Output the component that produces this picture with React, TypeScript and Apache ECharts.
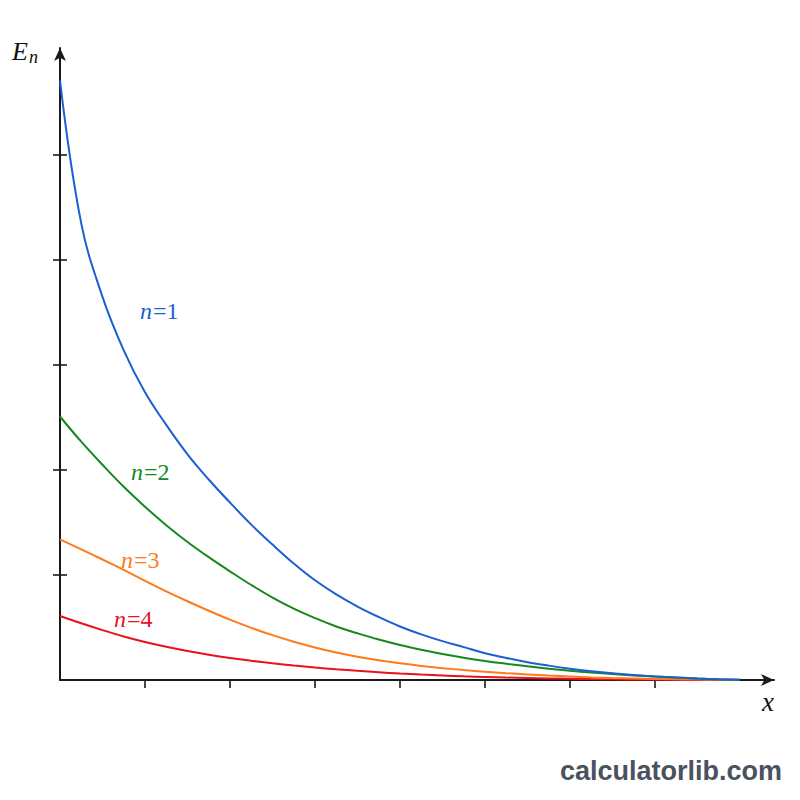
import React, { useEffect, useRef } from "react";
import * as echarts from "echarts";

const xs = [0, 0.25, 0.5, 0.75, 1, 1.25, 1.5, 1.75, 2, 2.25, 2.5, 2.75, 3, 3.25, 3.5, 3.75, 4, 4.25, 4.5, 4.75, 5, 5.25, 5.5, 5.75, 6, 6.25, 6.5, 6.75, 7, 7.25, 7.5, 7.75, 8];
const e1 = [5.71, 4.35, 3.65, 3.14, 2.74, 2.43, 2.15, 1.91, 1.69, 1.48, 1.29, 1.11, 0.95, 0.815, 0.7, 0.6, 0.51, 0.435, 0.37, 0.313, 0.255, 0.21, 0.17, 0.137, 0.108, 0.084, 0.064, 0.048, 0.034, 0.023, 0.014, 0.007, 0.002];
const e2 = [2.51, 2.27, 2.05, 1.84, 1.65, 1.475, 1.315, 1.17, 1.035, 0.905, 0.785, 0.68, 0.59, 0.51, 0.445, 0.385, 0.333, 0.288, 0.248, 0.213, 0.182, 0.155, 0.13, 0.108, 0.088, 0.071, 0.057, 0.044, 0.033, 0.023, 0.014, 0.007, 0.002];
const e3 = [1.34, 1.245, 1.148, 1.048, 0.945, 0.845, 0.75, 0.66, 0.575, 0.497, 0.427, 0.365, 0.31, 0.262, 0.222, 0.188, 0.159, 0.134, 0.113, 0.095, 0.079, 0.065, 0.053, 0.042, 0.033, 0.025, 0.019, 0.014, 0.01, 0.007, 0.004, 0.002, 0.001];
const e4 = [0.61, 0.54, 0.475, 0.415, 0.362, 0.316, 0.276, 0.241, 0.21, 0.183, 0.159, 0.138, 0.119, 0.102, 0.087, 0.074, 0.062, 0.052, 0.043, 0.035, 0.029, 0.023, 0.019, 0.015, 0.012, 0.009, 0.007, 0.005, 0.004, 0.003, 0.002, 0.001, 0];
const xTicks = [1, 2, 3, 4, 5, 6, 7];
const yTicks = [1, 2, 3, 4, 5];
const seriesNames = ["n=1", "n=2", "n=3", "n=4"];
const colors = ["#1b5fd3", "#16891c", "#ff7a1a", "#e8121c"];

const SERIF = "'Liberation Serif', 'DejaVu Serif', serif";

export default function App() {
  const ref = useRef<HTMLDivElement>(null);
  useEffect(() => {
    if (!ref.current) return;
    const chart = echarts.init(ref.current, undefined, { renderer: "svg" });
    const all = [e1, e2, e3, e4];
    const axisColor = "#1a1a1a";
    const labelPos = [
      [140, 311],
      [131, 472],
      [121, 560],
      [114, 619],
    ];
    chart.setOption({
      animation: false,
      backgroundColor: "#ffffff",
      grid: { left: 60, right: 26, top: 48, bottom: 120 },
      xAxis: {
        type: "value",
        min: 0,
        max: 8.4,
        axisLine: {
          show: true,
          lineStyle: { color: axisColor, width: 2 },
          symbol: ["none", "arrow"],
          symbolSize: [9, 13],
        },
        axisTick: {
          show: true,
          customValues: xTicks,
          length: 8,
          lineStyle: { color: axisColor, width: 1.6 },
        },
        axisLabel: { show: false },
        splitLine: { show: false },
      },
      yAxis: [
        {
          type: "value",
          min: 0,
          max: 6.02,
          axisLine: {
            show: true,
            lineStyle: { color: axisColor, width: 2 },
            symbol: ["none", "arrow"],
            symbolSize: [9, 13],
          },
          axisTick: {
            show: true,
            customValues: yTicks,
            length: 7,
            lineStyle: { color: axisColor, width: 1.6 },
          },
          axisLabel: { show: false },
          splitLine: { show: false },
        },
        {
          type: "value",
          position: "left",
          min: 0,
          max: 6.02,
          axisLine: { show: false },
          axisTick: {
            show: true,
            inside: true,
            customValues: yTicks,
            length: 7,
            lineStyle: { color: axisColor, width: 1.6 },
          },
          axisLabel: { show: false },
          splitLine: { show: false },
        },
      ],
      series: all.map((arr, i) => ({
        name: seriesNames[i],
        type: "line",
        smooth: 0.4,
        showSymbol: false,
        yAxisIndex: 0,
        z: 3 + (3 - i),
        lineStyle: { color: colors[i], width: 2 },
        data: xs.map((x, j) => [x, arr[j]]),
      })),
      graphic: [
        {
          type: "text",
          left: 12,
          top: 38,
          style: {
            text: "{e|E}{n|n}",
            rich: {
              e: { fontFamily: SERIF, fontStyle: "italic", fontSize: 26, fill: "#111" },
              n: { fontFamily: SERIF, fontStyle: "italic", fontSize: 18, fill: "#111", padding: [11, 0, 0, 1] },
            },
          },
        },
        {
          type: "text",
          left: 762,
          top: 688,
          style: {
            text: "x",
            fontFamily: SERIF,
            fontStyle: "italic",
            fontSize: 27,
            fill: "#111",
          },
        },
        ...seriesNames.map((name, i) => ({
          type: "text",
          x: labelPos[i][0],
          y: labelPos[i][1],
          style: {
            text: "{i|n}{r|" + name.slice(1) + "}",
            verticalAlign: "middle",
            rich: {
              i: { fontFamily: SERIF, fontStyle: "italic", fontSize: 24, fill: colors[i] },
              r: { fontFamily: SERIF, fontSize: 24, fill: colors[i], padding: [0, 0, 0, 1] },
            },
          },
        })),
        {
          type: "text",
          right: 18,
          top: 757,
          style: {
            text: "calculatorlib.com",
            fontFamily: "'Liberation Sans', Arial, sans-serif",
            fontWeight: "bold",
            fontSize: 27,
            fill: "#4a5260",
          },
        },
      ],
    });
    return () => chart.dispose();
  }, []);
  return (
    <div
      ref={ref}
      style={{ position: "absolute", left: 0, top: 0, width: 800, height: 800, background: "#fff" }}
    />
  );
}
